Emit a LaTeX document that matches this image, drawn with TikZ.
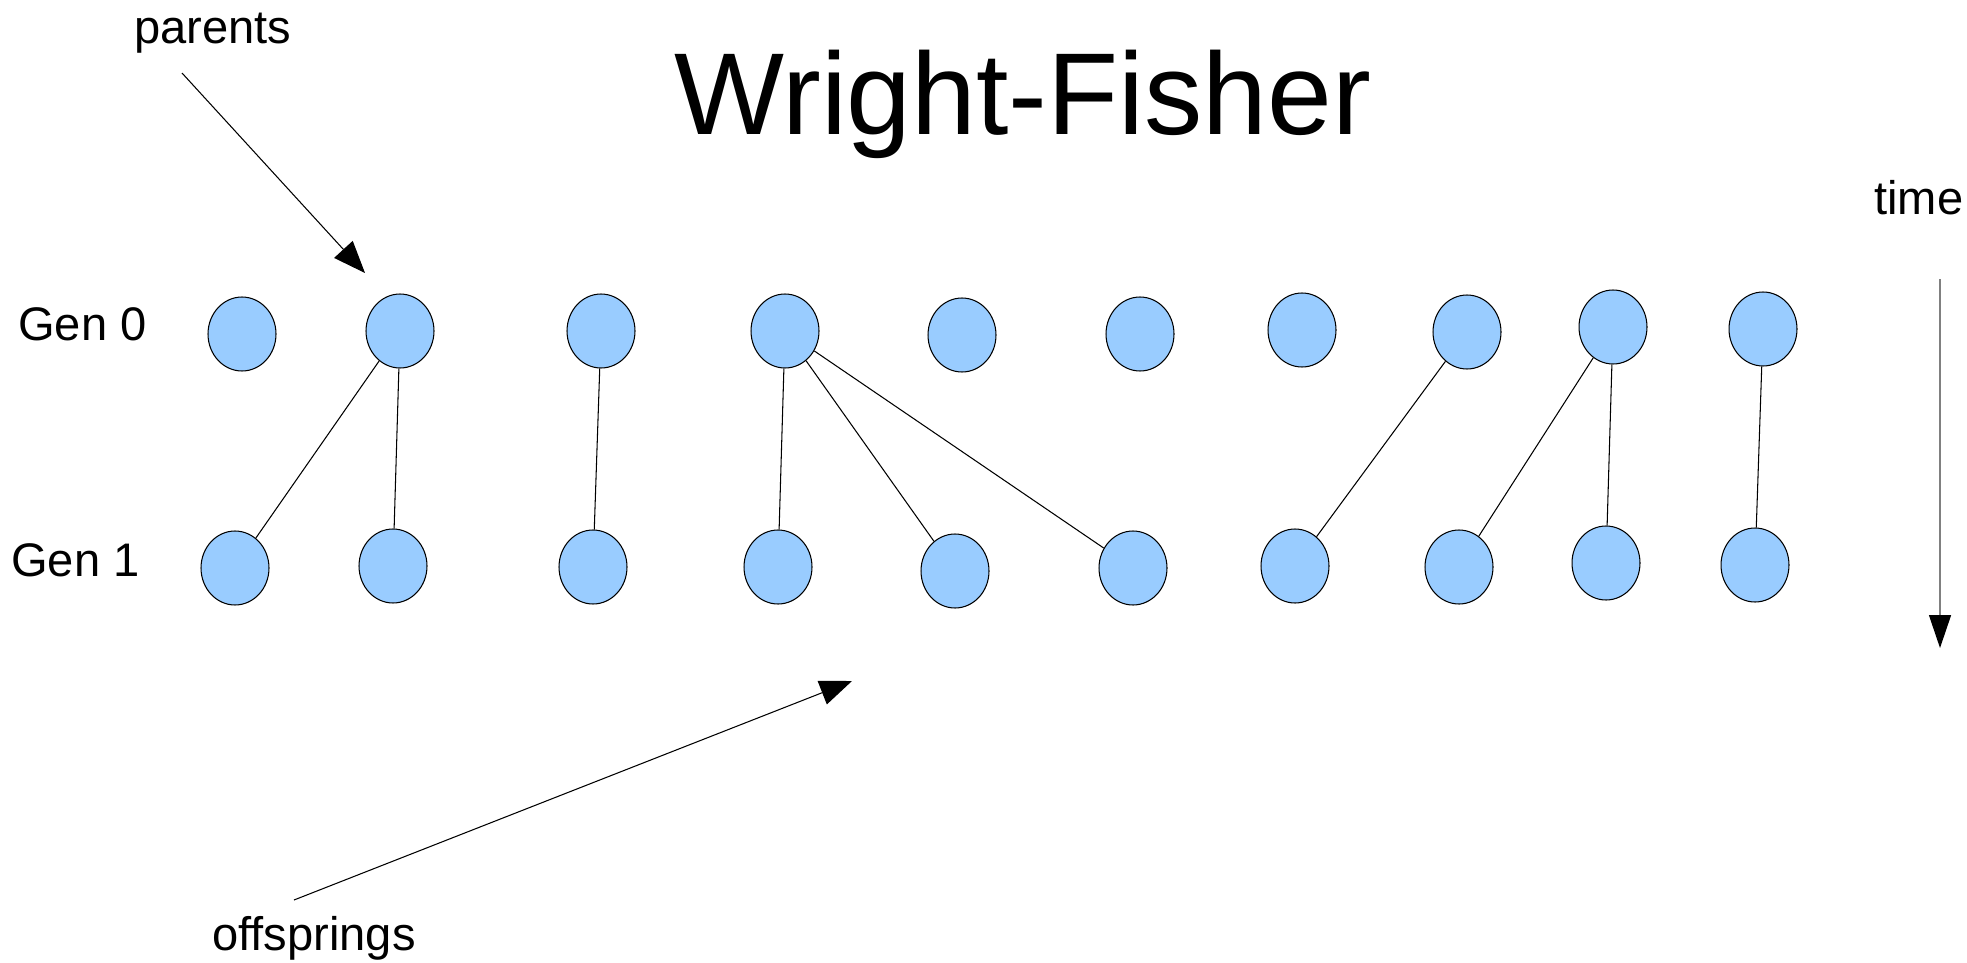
\documentclass[tikz,border=0pt]{standalone}
\usepackage{fontspec}
\setmainfont{Liberation Sans}
\usepackage{xcolor}
\usetikzlibrary{arrows.meta,shapes.geometric}
\definecolor{indblue}{HTML}{99CCFF}

\begin{document}
\begin{tikzpicture}[
  x=0.02cm, y=-0.02cm,
  ind/.style={draw,ellipse,fill=indblue,minimum width=1.36cm,minimum
              height=1.48cm,inner sep=0pt,line width=0.6pt},
  lab/.style={anchor=base west,inner sep=0pt,font=\fontsize{26.8}{30}\selectfont},
  link/.style={line width=0.6pt},
  arr/.style={-{Triangle[length=0.64cm,width=0.5cm]},line width=0.6pt}
]
\useasboundingbox (0,0) rectangle (1967,963);

\node[anchor=base west,inner sep=0pt,font=\fontsize{66.3}{70}\selectfont] (title) at (674,134) {Wright-Fisher};
\node[lab] (parents) at (134,44) {parents};
\node[lab] (offsprings) at (212,950) {offsprings};
\node[lab] (time) at (1874,214) {time};
\node[lab] (gen0) at (18,340) {Gen 0};
\node[lab] (gen1) at (11,576) {Gen 1};

% generation 0
\foreach \i/\x/\y in {1/242/334, 2/400/331, 3/601/331, 4/785/331, 5/962/335,
                      6/1140/334, 7/1302/330, 8/1467/332, 9/1613/327, 10/1763/329}
  \node[ind] (p\i) at (\x,\y) {};
% generation 1
\foreach \i/\x/\y in {1/235/568, 2/393/566, 3/593/567, 4/778/567, 5/955/571,
                      6/1133/568, 7/1295/566, 8/1459/567, 9/1606/563, 10/1755/565}
  \node[ind] (o\i) at (\x,\y) {};

\draw[link] (p2) -- (o1);
\draw[link] (p2) -- (o2);
\draw[link] (p3) -- (o3);
\draw[link] (p4) -- (o4);
\draw[link] (p4) -- (o5);
\draw[link] (p4) -- (o6);
\draw[link] (p8) -- (o7);
\draw[link] (p9) -- (o8);
\draw[link] (p9) -- (o9);
\draw[link] (p10) -- (o10);

% pointers
\coordinate (pa) at (182,73);
\coordinate (pb) at (365,273);
\coordinate (oa) at (294,900);
\coordinate (ob) at (852,681);
\coordinate (ta) at (1940,279);
\coordinate (tb) at (1940,648);
\draw[arr] (pa) -- (pb);
\draw[arr] (oa) -- (ob);
\draw[-{Triangle[length=0.66cm,width=0.44cm,color=black]},line width=0.8pt,gray] (ta) -- (tb);
\end{tikzpicture}
\end{document}
